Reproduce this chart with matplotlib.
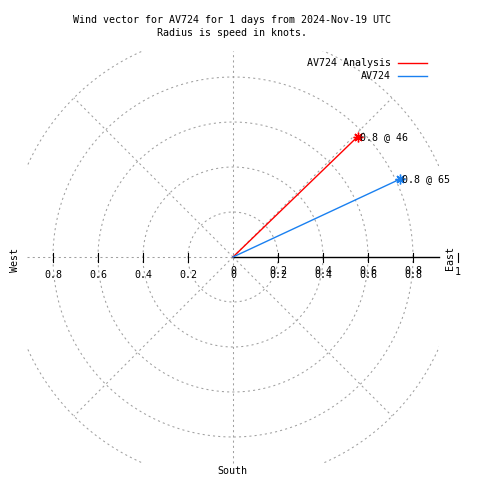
import numpy as np
import matplotlib
matplotlib.use("Agg")
import matplotlib.pyplot as plt
from matplotlib.patches import Rectangle

# ===== Data =====
series_names = ["AV724 Analysis", "AV724"]
series_colors = ["#ff0000", "#1a80f0"]
speeds = [0.77, 0.82]        # knots
directions = [46, 65]        # degrees, clockwise from north
grid_radii = [0.2, 0.4, 0.6, 0.8, 1.0]
tick_values = [0.2, 0.4, 0.6, 0.8]
tick_labels = ["0.2", "0.4", "0.6", "0.8"]
title_lines = ["Wind vector for AV724 for 1 days from 2024-Nov-19 UTC",
               "Radius is speed in knots."]

# ===== Layout (pixels) =====
W = H = 480
CX, CY = 233, 257      # pole
SCALE = 225            # pixels per knot
CLIP = 0.915
FONT = "DejaVu Sans Mono"
FS = 7.2
GRID = dict(color="#a0a0a0", lw=0.75, ls=(0, (2, 3)))


def px(x, y):
    """pixel -> data coords"""
    return (x - CX) / SCALE, (CY - y) / SCALE


fig = plt.figure(figsize=(4.8, 4.8), dpi=100)
ax = fig.add_axes([0, 0, 1, 1])
ax.set_xlim(-CX / SCALE, (W - CX) / SCALE)
ax.set_ylim(-(H - CY) / SCALE, CY / SCALE)
ax.axis("off")

clip_rect = Rectangle((-CLIP, -CLIP), 2 * CLIP, 2 * CLIP,
                      transform=ax.transData, fill=False, visible=False)
ax.add_patch(clip_rect)

# ===== Grid =====
th = np.linspace(0, 2 * np.pi, 721)
for r in grid_radii:
    ln, = ax.plot(r * np.cos(th), r * np.sin(th), **GRID)
    ln.set_clip_path(clip_rect)
for a in [45, 135, 225, 315]:
    ln, = ax.plot([0, np.cos(np.radians(a))], [0, np.sin(np.radians(a))], **GRID)
    ln.set_clip_path(clip_rect)
ax.plot([-CLIP, 0], [0, 0], **GRID)
ax.plot([0, 0], [-CLIP, CLIP], **GRID)

# ===== Radial axis =====
ax.plot([0, CLIP], [0, 0], color="black", lw=1)
t = 4.5 / SCALE
for v in tick_values:
    ax.plot([v, v], [-t, t], color="black", lw=0.8)
    ax.plot([-v, -v], [-t, t], color="black", lw=0.8)
ax.plot([1.0, 1.0], [-t, t], color="black", lw=0.8)

# tick labels (the right side is drawn twice, slightly shifted, as in the original)
ylab = px(0, 275)[1]
ylab2 = px(0, 271)[1]
for v, lab in zip(tick_values, tick_labels):
    ax.text(-v, ylab, lab, ha="center", va="center", family=FONT, fontsize=FS)
    ax.text(v, ylab, lab, ha="center", va="center", family=FONT, fontsize=FS)
    ax.text(v, ylab2, lab, ha="center", va="center", family=FONT, fontsize=FS)
ax.text(0, ylab, "0", ha="center", va="center", family=FONT, fontsize=FS)
ax.text(0, ylab2, "0", ha="center", va="center", family=FONT, fontsize=FS)
ax.text(1.0, px(0, 272)[1], "1", ha="center", va="center", family=FONT, fontsize=FS)

ax.text(*px(15, 260), "West", rotation=90, ha="center", va="center",
        family=FONT, fontsize=FS)
ax.text(*px(450, 258), "East", rotation=90, ha="center", va="center",
        family=FONT, fontsize=FS)
ax.text(*px(232, 471), "South", ha="center", va="center",
        family=FONT, fontsize=FS)

# ===== Vectors =====
for name, col, s, d in zip(series_names, series_colors, speeds, directions):
    x = s * np.sin(np.radians(d))
    y = s * np.cos(np.radians(d))
    ax.plot([0, x], [0, y], color=col, lw=1)
    ax.plot([x], [y], marker=(8, 2, 0), ms=7, mew=1, color=col)
    ax.annotate(f"{s:.1f} @ {d}", (x, y), xytext=(1.5, 0), textcoords="offset points",
                ha="left", va="center", family=FONT, fontsize=FS)

# ===== Legend =====
for i, (name, col) in enumerate(zip(series_names, series_colors)):
    yy = 63 + 13 * i
    ax.text(*px(391, yy), name, ha="right", va="center", family=FONT, fontsize=FS)
    x0, y0 = px(398, yy)
    x1, _ = px(427, yy)
    ax.plot([x0, x1], [y0, y0], color=col, lw=1)

# ===== Title =====
for i, line in enumerate(title_lines):
    fig.text(232 / W, 1 - (20 + 13 * i) / H, line, ha="center", va="center",
             family=FONT, fontsize=FS)

fig.savefig("out.png", dpi=100, facecolor="white")
